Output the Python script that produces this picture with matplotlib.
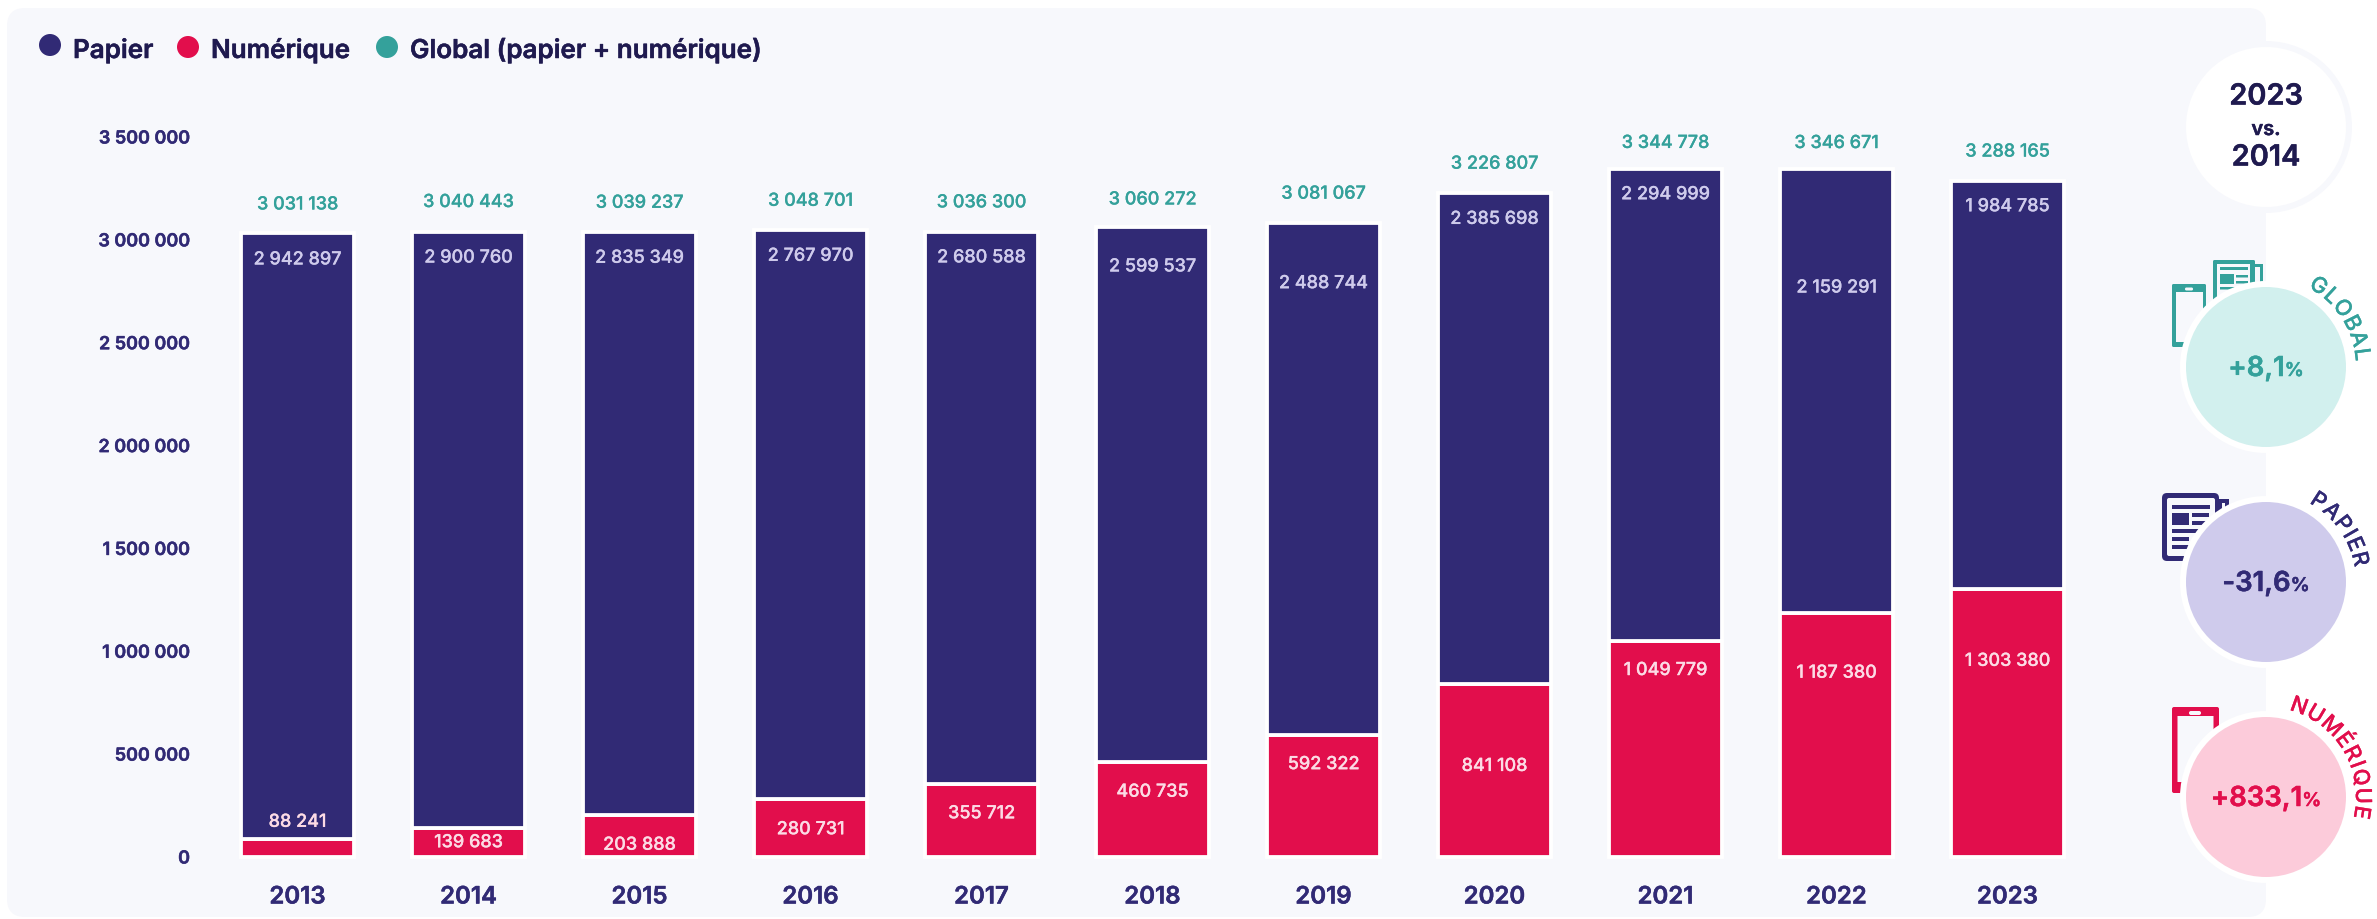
import matplotlib
matplotlib.use("Agg")
import matplotlib.pyplot as plt
import matplotlib.patheffects as pe
from matplotlib.patches import Circle, FancyBboxPatch
from matplotlib.ticker import FuncFormatter
from matplotlib.textpath import text_to_path
from matplotlib.font_manager import FontProperties
from matplotlib.text import Text
import numpy as np

plt.rcParams['font.family'] = ['Inter', 'DejaVu Sans']

years = ['2013','2014','2015','2016','2017','2018','2019','2020','2021','2022','2023']
papier = [2942897,2900760,2835349,2767970,2680588,2599537,2488744,2385698,2294999,2159291,1984785]
numerique = [88241,139683,203888,280731,355712,460735,592322,841108,1049779,1187380,1303380]
total = [3031138,3040443,3039237,3048701,3036300,3060272,3081067,3226807,3344778,3346671,3288165]
yticks = [0,500000,1000000,1500000,2000000,2500000,3000000,3500000]

# label placement in pixels, relative to the top of each segment
total_off = [31,31.5,31,31,32,30,31.5,31.5,28,27.5,31]
papier_off = [24,24,24,24,23,37,58,23.7,23.3,117,23.7]
numerique_off = [-19,12,27.7,28,27.5,27.5,27,80,27,58,70]
LABEL_SHIFT = 2.5

NAVY='#312a75'; DARK='#1f1a4f'; RED='#e20e4c'; TEAL='#34a19b'; PANEL='#f7f8fc'
W,H=2377,920
PX=0.72

fig=plt.figure(figsize=(W/100,H/100),dpi=100,facecolor='white')
bg=fig.add_axes([0,0,1,1],zorder=0); bg.set_xlim(0,W); bg.set_ylim(H,0); bg.axis('off')
x0,x1,y0,y1=212,2093,858,138
ax=fig.add_axes([x0/W,1-y0/H,(x1-x0)/W,(y0-y1)/H],zorder=1)
ax.patch.set_alpha(0)
ax.set_xlim(-0.5,10.5); ax.set_ylim(0,3500000)
for s in ax.spines.values(): s.set_visible(False)

xs=np.arange(len(years))
lw=3.8*PX
ax.bar(xs,numerique,width=112.5/171,color=RED,edgecolor='white',linewidth=lw,clip_on=False,zorder=2)
ax.bar(xs,papier,bottom=numerique,width=112.5/171,color=NAVY,edgecolor='white',linewidth=lw,clip_on=False,zorder=2)

for i in range(len(years)):
    ax.annotate(f"{total[i]:,}".replace(","," "),(xs[i],total[i]),xytext=(0,(total_off[i]-LABEL_SHIFT)*PX),textcoords='offset points',
                ha='center',va='center',color=TEAL,fontsize=18*PX,fontweight=500,zorder=4)
    ax.annotate(f"{papier[i]:,}".replace(","," "),(xs[i],total[i]),xytext=(0,-(papier_off[i]+LABEL_SHIFT)*PX),textcoords='offset points',
                ha='center',va='center',color='#cfcbec',fontsize=18*PX,fontweight=500,zorder=4)
    ax.annotate(f"{numerique[i]:,}".replace(","," "),(xs[i],numerique[i]),xytext=(0,-(numerique_off[i]+LABEL_SHIFT)*PX),textcoords='offset points',
                ha='center',va='center',color='#fcdbe5',fontsize=18*PX,fontweight=500,zorder=4)

ax.set_xticks(xs); ax.set_xticklabels(years,fontsize=24*PX,fontweight=600,color=NAVY)
ax.set_yticks(yticks)
ax.yaxis.set_major_formatter(FuncFormatter(lambda v,_:f"{int(v):,}".replace(","," ")))
ax.tick_params(axis='both',length=0)
ax.tick_params(axis='y',pad=22*PX,labelcolor=NAVY,labelsize=18*PX)
ax.tick_params(axis='x',pad=29.5*PX)
for t in ax.get_yticklabels(): t.set_fontweight(600)

# background panel
bg.add_patch(FancyBboxPatch((7,9),2259,909,boxstyle='round,pad=0,rounding_size=18',fc=PANEL,ec='none',zorder=0))

# legend
for cx,cy,c,tx,lab in [(50,46,NAVY,73,'Papier'),(188,48,RED,211,'Numérique'),(387,48,TEAL,410,'Global (papier + numérique)')]:
    bg.add_patch(Circle((cx,cy),11,fc=c,ec='none',zorder=3))
    bg.text(tx,51.5,lab,ha='left',va='center',color=DARK,fontsize=26*PX,fontweight=600,zorder=3)

def rect(x,y,w,h,c,z,**k):
    bg.add_patch(FancyBboxPatch((x,y),w,h,boxstyle=f"round,pad=0,rounding_size={k.get('r',0.01)}",fc=c,ec='none',zorder=z))

# --- icons
rect(2172,285,34,63,TEAL,2,r=1.5)
rect(2176,293,27,50,PANEL,2.1)
rect(2185,288.5,8,3,PANEL,2.2,r=1.4)
rect(2250,265,13,40,TEAL,1.9)
rect(2255,268,5,40,PANEL,1.95)
rect(2213,261,42,50,TEAL,2,r=1.5)
rect(2217,265,33,50,PANEL,2.1)
rect(2220,268,28,3,TEAL,2.2)
rect(2220,275,14,10,TEAL,2.2)
rect(2236,276,12,2.5,TEAL,2.2)
rect(2236,282,12,2.5,TEAL,2.2)
rect(2220,288,28,2.5,TEAL,2.2)
rect(2215,500,14,55,NAVY,1.9)
rect(2222,504,3,50,PANEL,1.95)
rect(2162,494,57,68,NAVY,2,r=5)
rect(2167,499,48,58,PANEL,2.1,r=2)
rect(2172,506,38,4,NAVY,2.2)
rect(2172,514,17,12,NAVY,2.2)
rect(2192,514,17,4,NAVY,2.2)
rect(2192,522,17,4,NAVY,2.2)
rect(2172,530,38,4,NAVY,2.2)
rect(2172,538,17,4,NAVY,2.2)
rect(2172,546,17,4,NAVY,2.2)
rect(2172,708,47,86,RED,2,r=2)
rect(2177.5,717,36,66,PANEL,2.1)
rect(2189,712,12,4,PANEL,2.2,r=1.9)

# --- right-hand circles
CX=2266
bg.add_patch(Circle((CX,128),86,fc=PANEL,ec='none',zorder=4))
bg.add_patch(Circle((CX,128),80,fc='white',ec='none',zorder=5))
bg.text(CX,98,'2023',ha='center',va='center',color=DARK,fontsize=29*PX,fontweight=600,zorder=6)
bg.text(CX,131,'vs.',ha='center',va='center',color=DARK,fontsize=20*PX,fontweight=600,zorder=6)
bg.text(CX,159,'2014',ha='center',va='center',color=DARK,fontsize=29*PX,fontweight=600,zorder=6)

def tw(s,px,weight=500):
    fp=FontProperties(family='Inter',weight=weight,size=px)
    return text_to_path.get_text_width_height_descent(s,fp,False)[0]

def arc_text(cy,label,start,color,px=22,rb=90,track=2):
    th=np.radians(start); prev=None
    for ch in label:
        w=tw(ch,px)
        if prev is not None:
            th+=((prev+w)/2+track)/(rb+7)
        bg.text(CX+rb*np.sin(th),cy-rb*np.cos(th),ch,rotation=-np.degrees(th),rotation_mode='anchor',
                ha='center',va='baseline',color=color,fontsize=px*PX,fontweight=500,zorder=6)
        prev=w

def stat(cy,fill,color,val,label,start):
    bg.add_patch(Circle((CX,cy),86,fc='white',ec='none',zorder=4))
    bg.add_patch(Circle((CX,cy),80,fc=fill,ec='none',zorder=5))
    a,b=tw(val,27.5,600),tw('%',19,600)
    left=CX-(a+b)/2
    bg.text(left,cy+9,val,ha='left',va='baseline',color=color,fontsize=27.5*PX,fontweight=600,zorder=6)
    bg.text(left+a,cy+9,'%',ha='left',va='baseline',color=color,fontsize=19*PX,fontweight=600,zorder=6)
    arc_text(cy,label,start,color)

stat(368,'#d2f0ee',TEAL,'+8,1','GLOBAL',33)
stat(583,'#cfcbec',NAVY,'-31,6','PAPIER',33)
stat(798,'#fccbda',RED,'+833,1','NUMÉRIQUE',20)

# thicken text slightly to match the heavier reference face
for t in fig.findobj(Text):
    wt=t.get_fontweight()
    if isinstance(wt,(int,float)) and t.get_text():
        sw={500:0.2,600:0.35}.get(wt,0)
        t.set_path_effects([pe.withStroke(linewidth=sw,foreground=t.get_color())])

fig.savefig('out.png',dpi=100,facecolor='white')
